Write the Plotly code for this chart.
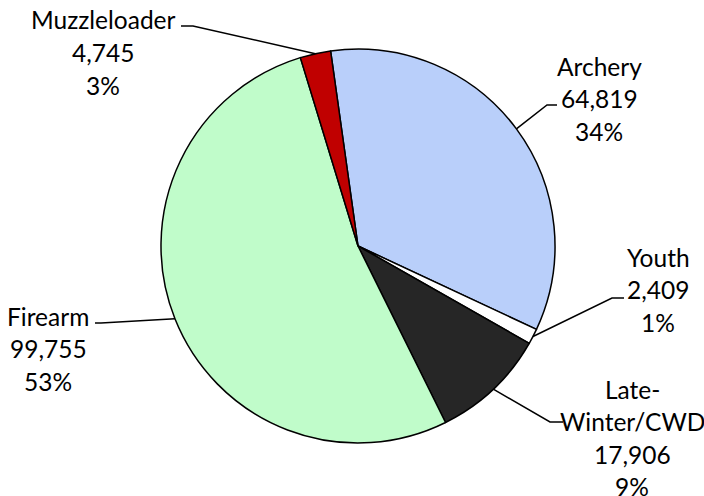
import math
import plotly.graph_objects as go

# ---- data ----
categories = ["Archery", "Youth", "Late-Winter/CWD", "Firearm", "Muzzleloader"]
values = [64819, 2409, 17906, 99755, 4745]
label_names = [["Archery"], ["Youth"], ["Late-", "Winter/CWD"], ["Firearm"], ["Muzzleloader"]]
colors = ["#B9CFFA", "#FFFFFF", "#262626", "#C0FCCA", "#C00000"]

# ---- layout geometry (pixels) ----
W, H = 704, 496
CX, CY, R = 358, 246, 197
ROTATION = -8  # degrees, clockwise from 12 o'clock

# label block: centre x, first-line y (pixels)
label_x = [599, 658, 632, 48, 103]
label_y0 = [66, 257, 389, 316, 20]
LINE_GAP = 32.5
# leader lines: x at label end, x of elbow, y of horizontal segment
lead_x0 = [557, 624, 563, 95, 181]
lead_x1 = [547, 612, 550, 101, 193]
lead_y = [105, 298, 422, 323, 26]

FONT = "Lato"
FSIZE = 24.5

def px(x):
    return x / W

def py(y):
    return 1 - y / H

total = sum(values)

fig = go.Figure(go.Pie(
    labels=categories,
    values=values,
    sort=False,
    direction="clockwise",
    rotation=ROTATION,
    marker=dict(colors=colors, line=dict(color="#000000", width=1.5)),
    textinfo="none",
    hoverinfo="label+value+percent",
    showlegend=False,
    domain=dict(x=[px(CX - R), px(CX + R)], y=[py(CY + R), py(CY - R)]),
))

annotations = []
shapes = []
cum = 0
for i, v in enumerate(values):
    mid = ROTATION + 360 * (cum + v / 2) / total
    cum += v
    ax = CX + R * math.sin(math.radians(mid))
    ay = CY - R * math.cos(math.radians(mid))
    lines = label_names[i] + [f"{v:,}", f"{round(100 * v / total)}%"]
    for k, t in enumerate(lines):
        annotations.append(dict(
            x=px(label_x[i]), y=py(label_y0[i] + k * LINE_GAP),
            xref="paper", yref="paper", text=t, showarrow=False,
            xanchor="center", yanchor="middle",
            font=dict(family=FONT, size=FSIZE, color="#000000"),
        ))
    path = (f"M {px(lead_x0[i])} {py(lead_y[i])} "
            f"L {px(lead_x1[i])} {py(lead_y[i])} "
            f"L {px(ax)} {py(ay)}")
    shapes.append(dict(type="path", xref="paper", yref="paper", path=path,
                       line=dict(color="#000000", width=1.5)))

fig.update_layout(
    width=W, height=H,
    margin=dict(l=0, r=0, t=0, b=0),
    paper_bgcolor="#FFFFFF",
    plot_bgcolor="#FFFFFF",
    annotations=annotations,
    shapes=shapes,
)

fig.write_html(
    "out.html",
    config={"displayModeBar": False},
    post_script="document.body.style.margin='0';document.body.style.overflow='hidden';",
)
